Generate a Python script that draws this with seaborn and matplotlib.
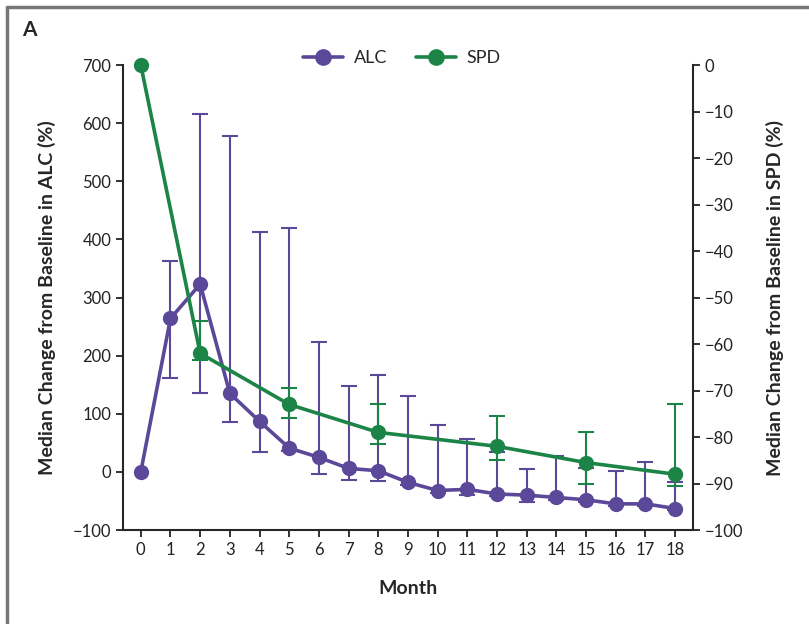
import numpy as np
import pandas as pd
import matplotlib
matplotlib.use("Agg")
import matplotlib.pyplot as plt
from matplotlib.lines import Line2D
import seaborn as sns

# data
months = list(range(19))
alc_median = [0, 264, 323, 135, 87, 41, 25, 6, 2, -18, -32, -30, -38, -40, -44, -48, -55, -55, -63]
alc_upper = [np.nan, 362, 616, 578, 412, 420, 224, 147, 167, 131, 80, 57, 34, 5, 28, 6, 1, 17, -17]
alc_lower = [np.nan, 161, 135, 86, 34, 36, -3, -14, -15, -22, -36, -40, -42, -52, -48, -52, -58, -58, -66]

spd_months = [0, 2, 5, 8, 12, 15, 18]
spd_median = [0, -62, -73, -79, -82, -85.5, -88]
spd_upper = [np.nan, -55, -69.5, -73, -75.5, -79, -73]
spd_lower = [np.nan, -63.5, -76, -81.5, -85, -90, -90.5]

PURPLE = "#5b4899"
GREEN = "#1b8446"

sns.set_style("ticks")
plt.rcParams["font.family"] = ["Lato", "DejaVu Sans"]
plt.rcParams["axes.linewidth"] = 1.5
plt.rcParams["xtick.major.width"] = 1.3
plt.rcParams["ytick.major.width"] = 1.3
plt.rcParams["xtick.major.size"] = 5
plt.rcParams["ytick.major.size"] = 5

alc = pd.DataFrame({"month": months, "median": alc_median,
                    "upper": alc_upper, "lower": alc_lower})
spd = pd.DataFrame({"month": spd_months, "median": spd_median,
                    "upper": spd_upper, "lower": spd_lower})

fig = plt.figure(figsize=(8.09, 6.24), dpi=100)
ax = fig.add_axes([0.152, 0.1506, 0.7046, 0.7452])
ax2 = ax.twinx()

# ALC on left axis
e = alc.dropna()
ax.errorbar(e["month"], e["median"],
            yerr=[e["median"] - e["lower"], e["upper"] - e["median"]],
            fmt="none", ecolor=PURPLE, elinewidth=1.5, capsize=6, capthick=1.5, zorder=2)
sns.lineplot(data=alc, x="month", y="median", ax=ax, color=PURPLE, lw=2.6,
             marker="o", markersize=11, markeredgewidth=0, zorder=3, clip_on=False)

# SPD on right axis
e = spd.dropna()
ax2.errorbar(e["month"], e["median"],
             yerr=[e["median"] - e["lower"], e["upper"] - e["median"]],
             fmt="none", ecolor=GREEN, elinewidth=1.5, capsize=6, capthick=1.5, zorder=2)
sns.lineplot(data=spd, x="month", y="median", ax=ax2, color=GREEN, lw=2.6,
             marker="o", markersize=11, markeredgewidth=0, zorder=3, clip_on=False)

ax.set_xlim(-0.6, 18.6)
ax.set_ylim(-100, 700)
ax2.set_ylim(-100, 0)
ax.set_xticks(months)
ax.set_yticks(range(-100, 701, 100))
ax2.set_yticks(range(-100, 1, 10))
ax.tick_params(labelsize=12, colors="#222222", labelcolor="#222222")
ax2.tick_params(labelsize=12, colors="#222222", labelcolor="#222222")

ax.set_xlabel("Month", fontsize=14, fontweight="bold", labelpad=16)
ax.set_ylabel("Median Change from Baseline in ALC (%)", fontsize=14, fontweight="bold", labelpad=12)
ax2.set_ylabel("Median Change from Baseline in SPD (%)", fontsize=14, fontweight="bold", labelpad=16)

for a in (ax, ax2):
    a.spines["top"].set_visible(False)
ax.spines["right"].set_visible(False)
ax2.spines["left"].set_visible(False)
ax2.spines["bottom"].set_visible(False)

handles = [Line2D([], [], color=PURPLE, lw=2.6, marker="o", markersize=11),
           Line2D([], [], color=GREEN, lw=2.6, marker="o", markersize=11)]
fig.legend(handles, ["ALC", "SPD"], loc="center", bbox_to_anchor=(0.497, 0.907),
           ncol=2, frameon=False, fontsize=13, handlelength=2.2, columnspacing=1.6,
           handletextpad=0.6)

# panel frame and label
fig.add_artist(Line2D([0.009, 0.009], [0.0, 0.988], transform=fig.transFigure,
                      color="#777777", lw=2.5))
fig.add_artist(Line2D([0.009, 1.0], [0.988, 0.988], transform=fig.transFigure,
                      color="#777777", lw=2.5))
fig.text(0.027, 0.952, "A", fontsize=15, fontweight="bold", va="center")

fig.savefig("out.png", dpi=100)
